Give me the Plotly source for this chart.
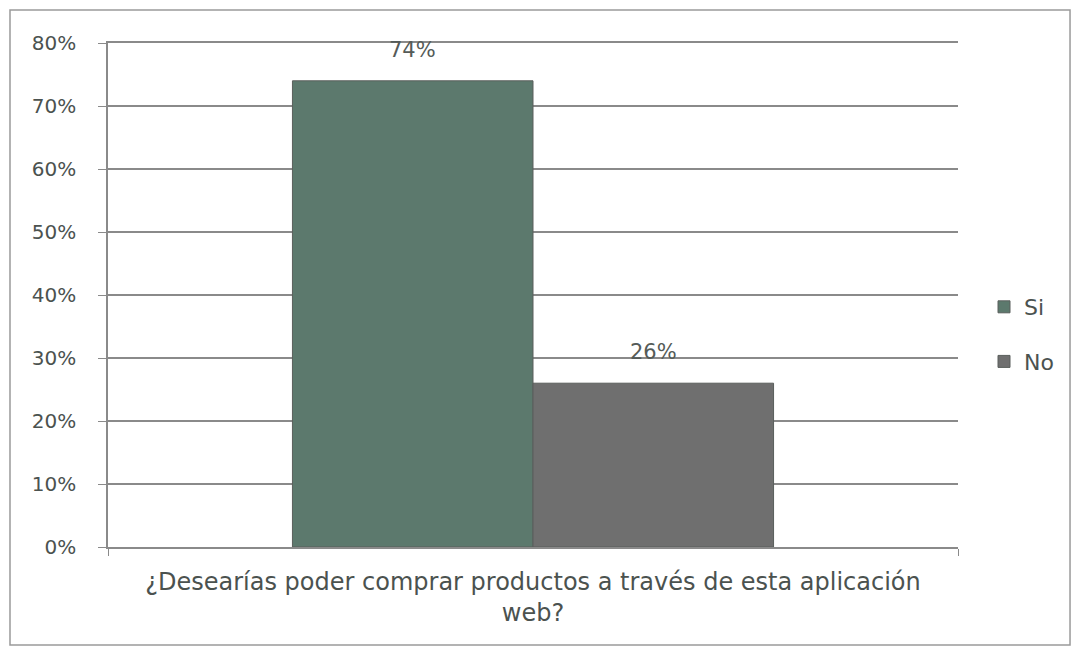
import plotly.graph_objects as go

categories = ["¿Desearías poder comprar productos a través de esta aplicación<br>web?"]
series_names = ["Si", "No"]
si_values = [0.74]
no_values = [0.26]
y_ticks = [0, 0.1, 0.2, 0.3, 0.4, 0.5, 0.6, 0.7, 0.8]

colors = {"Si": "#5c796d", "No": "#6f6f6f"}
font_family = "'DejaVu Sans', sans-serif"
text_color = "#4b524f"
grid_color = "#8a8a8a"

W, H = 1071, 647
L, R, T, B = 100, 121, 35, 108
bargap = 0.434
plot_w = W - L - R
bar_px = plot_w * (1 - bargap) / len(series_names)

fig = go.Figure()
annotations = []
for i, (name, vals) in enumerate(zip(series_names, [si_values, no_values])):
    fig.add_trace(go.Bar(
        x=categories, y=vals, name=name,
        marker=dict(color=colors[name], line=dict(color="#5a5f5c", width=1)),
        legendgroup=name,
    ))
    for c, v in zip(categories, vals):
        annotations.append(dict(
            x=c, y=v, xref="x", yref="y", text=f"{v:.0%}", showarrow=False,
            xshift=(i - (len(series_names) - 1) / 2) * bar_px,
            yanchor="middle", yshift=31,
            font=dict(size=21, color="#555b58", family=font_family),
        ))

fig.update_layout(
    width=W, height=H,
    margin=dict(l=L, r=R, t=T, b=B),
    paper_bgcolor="white", plot_bgcolor="white",
    barmode="group", bargap=bargap, bargroupgap=0,
    font=dict(family=font_family, color=text_color, size=20),
    showlegend=True,
    legend=dict(x=1.0306, y=0.4216, xanchor="left", yanchor="middle",
                font=dict(size=22, color=text_color, family=font_family),
                traceorder="grouped", tracegroupgap=23),
    xaxis=dict(showline=True, mirror=True, linecolor=grid_color, linewidth=1.5,
               ticks="outside", tickson="boundaries", ticklen=7, tickcolor=grid_color,
               ticklabelstandoff=12,
               tickfont=dict(size=24, color=text_color, family=font_family)),
    yaxis=dict(range=[0, 0.8], tickvals=y_ticks, tickformat=".0%",
               showgrid=True, gridcolor=grid_color, gridwidth=1.5,
               showline=True, linecolor=grid_color, linewidth=1.5,
               ticks="outside", ticklen=8, tickcolor=grid_color,
               ticklabelstandoff=18,
               tickfont=dict(size=20, color=text_color, family=font_family),
               zeroline=False),
    annotations=annotations,
    shapes=[dict(type="rect", xref="paper", yref="paper",
                 x0=-0.1153, x1=1.1318, y0=-0.1944, y1=1.0655,
                 line=dict(color="#9a9a9a", width=1.5), layer="below")],
)

fig.write_html("out.html")
